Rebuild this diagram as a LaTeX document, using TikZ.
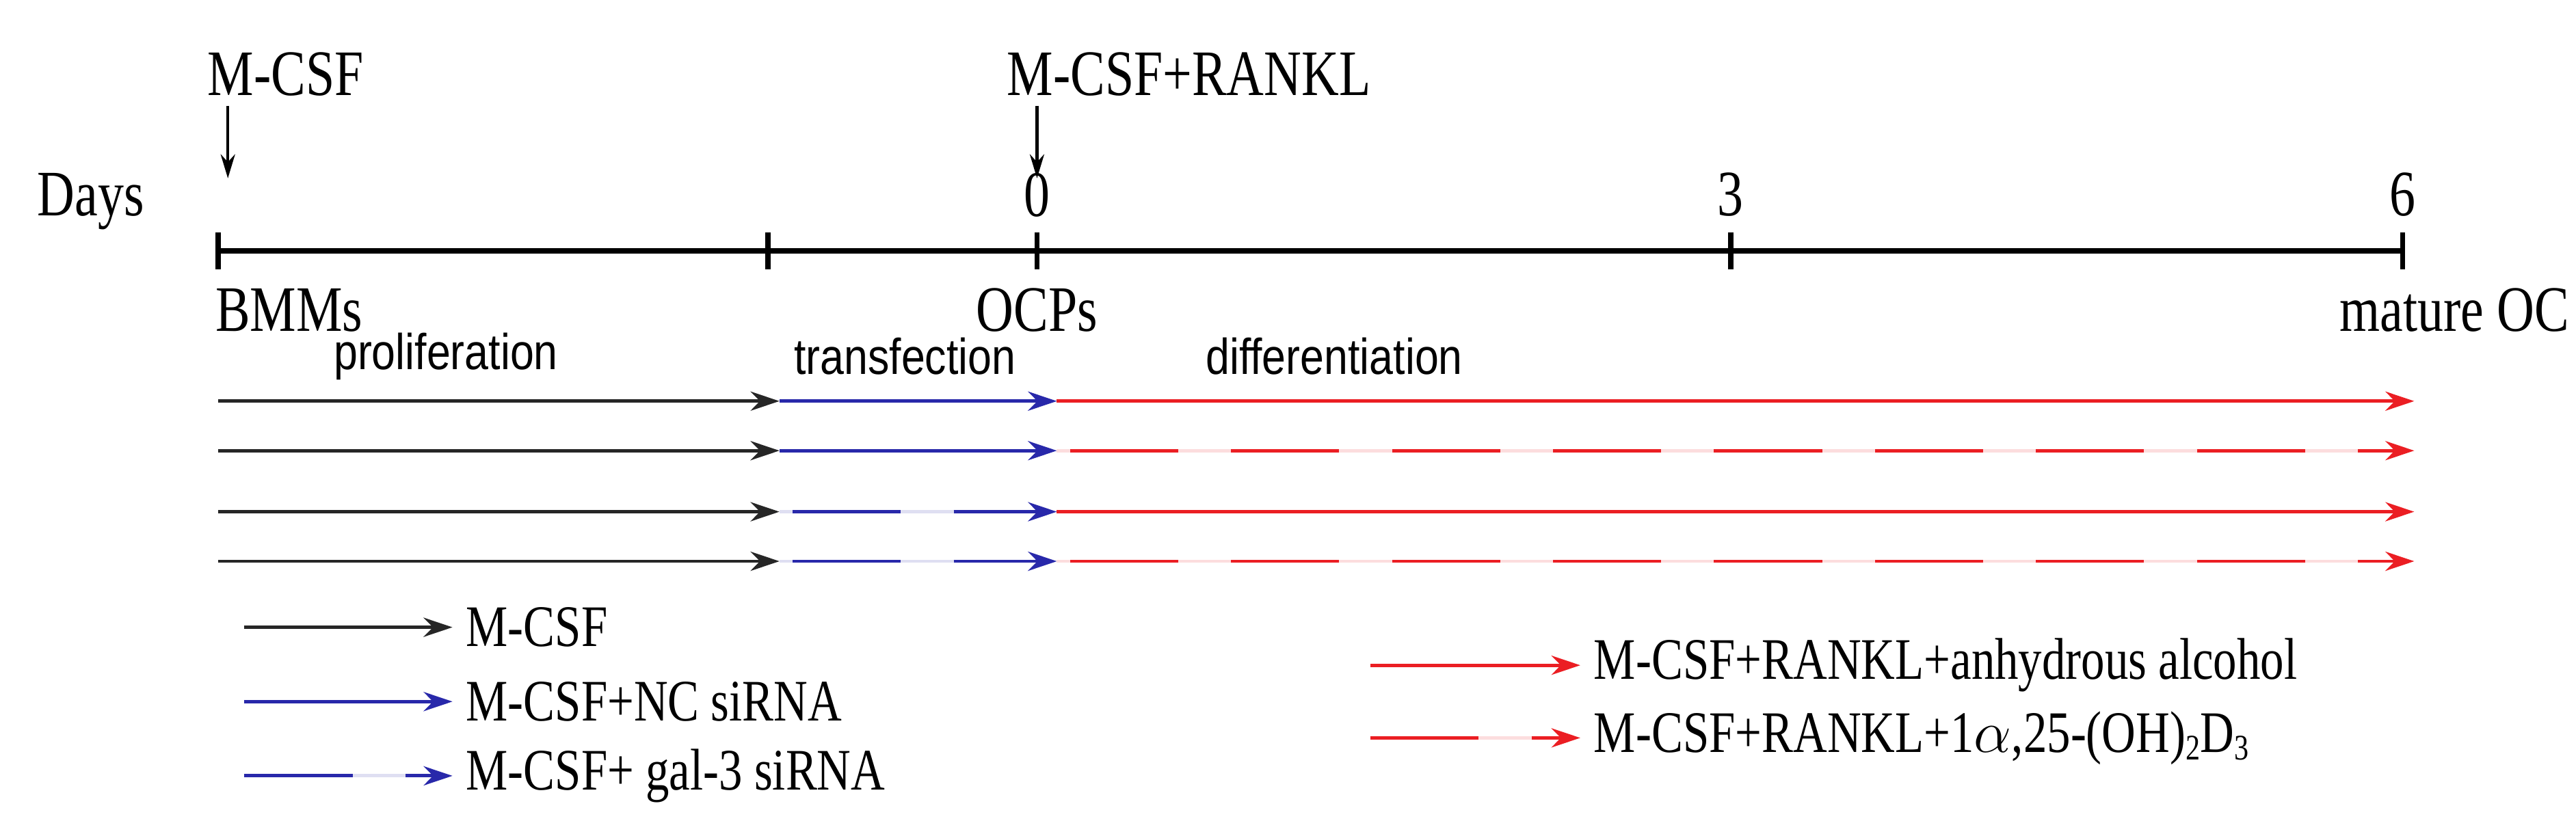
\documentclass[tikz,border=0pt]{standalone}
\usepackage{fontspec}
\setmainfont{Liberation Serif}[FakeStretch=0.8]
\newfontfamily\sansf{Liberation Sans}[FakeStretch=0.85]
\usetikzlibrary{arrows.meta}
\definecolor{myblue}{RGB}{40,40,170}
\definecolor{myred}{RGB}{235,30,35}
\begin{document}
\begin{tikzpicture}[x=0.02415cm,y=-0.02415cm,
  lab/.style={font=\fontsize{27}{28}\selectfont,inner sep=0},
  leg/.style={font=\fontsize{24.5}{26}\selectfont,inner sep=0,anchor=west},
  phase/.style={font=\sansf\fontsize{21}{23}\selectfont,inner sep=0},
  tl/.style={line width=2.2pt},
  arr/.style={line width=1.4pt,-{Stealth[length=12pt,width=8pt]}},
  pale/.style={line width=1.4pt,opacity=0.15},
  dsh/.style={line width=1.4pt,dash pattern=on 45 off 22}]
\useasboundingbox (0,0) rectangle (1560,497);
% top labels
\node[lab] (mcsf) at (173,45) {M-CSF};
\node[lab] (mr) at (720,45) {M-CSF+RANKL};
\coordinate (a1) at (138,108); \coordinate (a2) at (628,108);
\draw[line width=1.2pt,-{Stealth[length=10pt,width=6pt]}] (138,64) -- (a1);
\draw[line width=1.2pt,-{Stealth[length=10pt,width=6pt]}] (628,64) -- (a2);
\node[lab] (days) at (55,122) {Days};
% timeline
\coordinate (t0) at (132,152); \coordinate (t6) at (1455,152);
\draw[tl] (t0) -- (t6);
\foreach \x in {132,465,628,1048,1455} \draw[tl] (\x,141) -- (\x,163);
\node[lab] (d0) at (628,118) {0};
\node[lab] (d3) at (1048,118) {3};
\node[lab] (d6) at (1455,118) {6};
\node[lab] (bmm) at (175,188) {BMMs};
\node[lab] (ocp) at (628,188) {OCPs};
\node[lab,anchor=east] (moc) at (1556,188) {mature OC};
\node[phase] (p1) at (270,216) {proliferation};
\node[phase] (p2) at (548,216) {transfection};
\node[phase] (p3) at (808,216) {differentiation};
% rows
\foreach \y/\bs/\rs in {243/1/1,273/1/0,310/0/1,340/0/0}{
  \draw[arr,black!85] (132,\y) -- (472,\y);
  \ifnum\bs=1 \draw[arr,myblue] (472,\y) -- (640,\y);
  \else \draw[pale,myblue] (472,\y) -- (630,\y); \draw[dsh,myblue] (480,\y) -- (630,\y); \draw[arr,myblue] (625,\y) -- (640,\y); \fi
  \ifnum\rs=1 \draw[arr,myred] (640,\y) -- (1462,\y);
  \else \draw[pale,myred] (640,\y) -- (1455,\y); \draw[dsh,myred] (648,\y) -- (1450,\y); \draw[arr,myred] (1445,\y) -- (1462,\y); \fi
}
% legend
\draw[arr,black!85] (148,380) -- (274,380);
\node[leg] (l1) at (282,380) {M-CSF};
\draw[arr,myblue] (148,425) -- (274,425);
\node[leg] (l2) at (282,425) {M-CSF+NC siRNA};
\draw[pale,myblue] (148,470) -- (265,470);
\draw[dsh,myblue] (148,470) -- (265,470);
\draw[arr,myblue] (260,470) -- (274,470);
\node[leg] (l3) at (282,470) {M-CSF+ gal-3 siRNA};
\draw[arr,myred] (830,403) -- (957,403);
\node[leg] (l4) at (965,403) {M-CSF+RANKL+anhydrous alcohol};
\draw[pale,myred] (830,447) -- (948,447);
\draw[dsh,myred] (830,447) -- (948,447);
\draw[arr,myred] (943,447) -- (957,447);
\node[leg] (l5) at (965,447) {M-CSF+RANKL+1$\alpha$,25-(OH)\raisebox{-0.3ex}{\fontsize{15}{15}\selectfont 2}D\raisebox{-0.3ex}{\fontsize{15}{15}\selectfont 3}};
\end{tikzpicture}
\end{document}
